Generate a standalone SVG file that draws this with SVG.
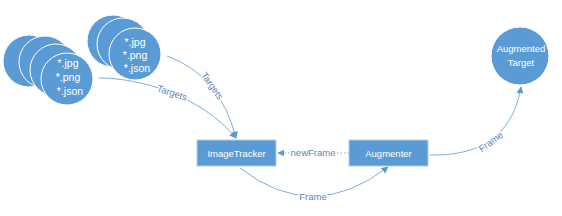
<svg xmlns="http://www.w3.org/2000/svg" width="562" height="216" viewBox="0 0 562 216">
<style>
.c{fill:#5B9BD5;stroke:#ffffff;stroke-width:1}
.b{fill:#5B9BD5;stroke:#B4CDE8;stroke-width:1}
.t{font-family:"Liberation Sans",Arial,sans-serif;font-size:9.5px;fill:#ffffff;text-anchor:middle}
.f{font-size:10.5px}
.e{fill:none;stroke:#7FAEDC;stroke-width:1}
.l{font-family:"Liberation Sans",Arial,sans-serif;font-size:9.5px;fill:#5A86B8;text-anchor:middle;stroke:#ffffff;stroke-width:3;paint-order:stroke}
</style>
<defs>
<marker id="ah" viewBox="0 0 10 10" refX="9" refY="5" markerWidth="7" markerHeight="7" orient="auto" markerUnits="userSpaceOnUse">
<path d="M0,0 L10,5 L0,10 z" fill="#5B9BD5"/>
</marker>
</defs>
<rect width="562" height="216" fill="#ffffff"/>
<g id="connectors">
<path class="e" d="M167,56 Q220,75 236,138" marker-end="url(#ah)"/>
<path class="e" d="M99,78 C140,78 200,95 236,138" marker-end="url(#ah)"/>
<path class="e" d="M349,153 L278,153" stroke-dasharray="1.5 2" marker-end="url(#ah)"/>
<path class="e" d="M240,168 Q313,225 388,167" marker-end="url(#ah)"/>
<path class="e" d="M430,155 C475,156 512,140 521,87" marker-end="url(#ah)"/>
<text class="l" transform="translate(212,86) rotate(55)" dy="3">Targets</text>
<text class="l" transform="translate(172,93) rotate(18)" dy="3">Targets</text>
<text class="l" x="313" y="156">newFrame</text>
<text class="l" x="313" y="200">Frame</text>
<text class="l" transform="translate(491,142) rotate(-36)" dy="3">Frame</text>
</g>
<g id="files1">
<circle class="c" cx="29" cy="61" r="26"/>
<circle class="c" cx="45" cy="62" r="26"/>
<circle class="c" cx="56" cy="70" r="26"/>
<circle class="c" cx="67" cy="79" r="26"/>
<text class="t f" x="68" y="67">*.jpg</text>
<text class="t f" x="68" y="81">*.png</text>
<text class="t f" x="70" y="95">*.json</text>
</g>
<g id="files2">
<circle class="c" cx="113" cy="41" r="26"/>
<circle class="c" cx="123" cy="44" r="26"/>
<circle class="c" cx="135" cy="54" r="26"/>
<text class="t f" x="135" y="46">*.jpg</text>
<text class="t f" x="135" y="59">*.png</text>
<text class="t f" x="137" y="72">*.json</text>
</g>
<g id="imagetracker">
<rect class="b" x="197" y="140" width="79" height="26"/>
<text class="t" x="236.5" y="156.5">ImageTracker</text>
</g>
<g id="augmenter">
<rect class="b" x="349" y="140" width="79" height="26"/>
<text class="t" x="388.5" y="156.5">Augmenter</text>
</g>
<g id="augmentedtarget">
<circle class="c" cx="520" cy="56" r="29"/>
<text class="t" x="521" y="52">Augmented</text>
<text class="t" x="521" y="66">Target</text>
</g>
</svg>
